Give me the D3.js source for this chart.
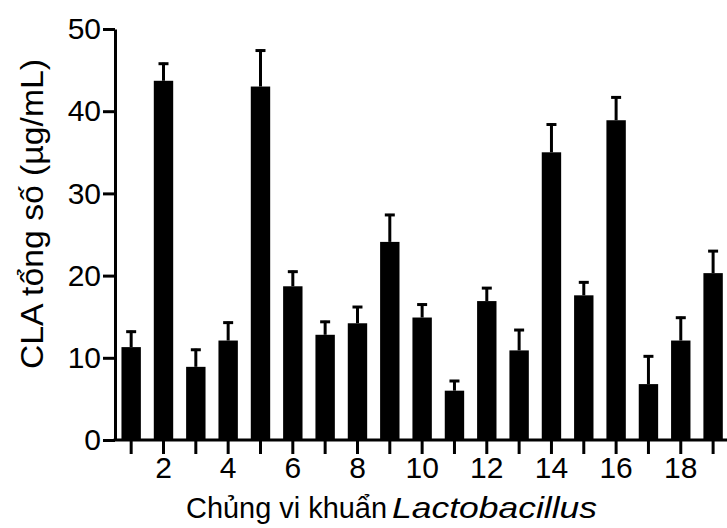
<!doctype html>
<html>
<head>
<meta charset="utf-8">
<style>
    body { margin: 0; background: #fff; }
    text { font-family: "Liberation Sans", Arial, sans-serif; fill: #000; }
</style>
<script src="https://d3js.org/d3.v7.min.js"></script>
</head>
<body>
<div id="chart"></div>
<script>

    // strains 1..19, mean CLA and upper error (SD)
    var strains = d3.range(1, 20);
    var cla = [11.3, 43.7, 8.9, 12.1, 43.0, 18.7, 12.8, 14.2, 24.1, 14.9,
               6.0, 16.9, 10.9, 35.0, 17.6, 38.9, 6.8, 12.1, 20.3];
    var err = [2.0, 2.2, 2.2, 2.3, 4.5, 1.9, 1.7, 2.1, 3.4, 1.7,
               1.3, 1.7, 2.6, 3.5, 1.7, 2.9, 3.5, 2.9, 2.8];
    var yTicks = [0, 10, 20, 30, 40, 50];
    var xLabelled = [2, 4, 6, 8, 10, 12, 14, 16, 18];

    var width = 727, height = 528;
    var plotLeft = 115, plotTop = 29, plotBottom = 440;
    var step = 32.33;

    var svg = d3.select("#chart").append("svg")
        .attr("width", width)
        .attr("height", height);

    var x = d3.scaleBand()
        .domain(strains)
        .range([plotLeft, plotLeft + step * strains.length])
        .paddingInner(0.4)
        .paddingOuter(0.2);

    var y = d3.scaleLinear()
        .domain([0, 50])
        .range([plotBottom, plotTop]);

    // bars
    svg.append("g")
        .selectAll("rect")
        .data(strains)
        .join("rect")
        .attr("x", d => x(d))
        .attr("y", (d, i) => y(cla[i]))
        .attr("width", x.bandwidth())
        .attr("height", (d, i) => plotBottom - y(cla[i]))
        .attr("fill", "#000");

    // error bars (upper only)
    var eb = svg.append("g").attr("stroke", "#000").attr("stroke-width", 3);
    eb.selectAll("line.v")
        .data(strains)
        .join("line")
        .attr("class", "v")
        .attr("x1", d => x(d) + x.bandwidth() / 2)
        .attr("x2", d => x(d) + x.bandwidth() / 2)
        .attr("y1", (d, i) => y(cla[i]))
        .attr("y2", (d, i) => y(cla[i] + err[i]));
    eb.selectAll("line.c")
        .data(strains)
        .join("line")
        .attr("class", "c")
        .attr("x1", d => x(d) + x.bandwidth() / 2 - 5)
        .attr("x2", d => x(d) + x.bandwidth() / 2 + 5)
        .attr("y1", (d, i) => y(cla[i] + err[i]) + 1)
        .attr("y2", (d, i) => y(cla[i] + err[i]) + 1);

    // y axis
    var yAxis = svg.append("g")
        .attr("transform", "translate(" + plotLeft + ",0)")
        .call(d3.axisLeft(y).tickValues(yTicks).tickSize(12).tickSizeOuter(0).tickPadding(2));

    // x axis
    var xAxis = svg.append("g")
        .attr("transform", "translate(0," + plotBottom + ")")
        .call(d3.axisBottom(x).tickSize(14).tickSizeOuter(0).tickPadding(3)
            .tickFormat(d => xLabelled.indexOf(d) >= 0 ? d : ""));
    xAxis.select(".domain").attr("d", "M" + (plotLeft - 1.5) + ",0H" + width);

    svg.selectAll(".domain, .tick line")
        .attr("stroke", "#000")
        .attr("stroke-width", 3);
    svg.selectAll(".tick text")
        .attr("font-family", "Liberation Sans, Arial, sans-serif")
        .attr("font-size", "30px")
        .attr("fill", "#000");

    // axis titles
    svg.append("text")
        .attr("transform", "translate(43, 214) rotate(-90)")
        .attr("text-anchor", "middle")
        .attr("font-size", "31px")
        .attr("textLength", 310)
        .attr("lengthAdjust", "spacingAndGlyphs")
        .text("CLA tổng số (µg/mL)");

    svg.append("text")
        .attr("x", 186)
        .attr("y", 518)
        .attr("font-size", "30px")
        .attr("textLength", 201)
        .attr("lengthAdjust", "spacingAndGlyphs")
        .text("Chủng vi khuẩn");

    svg.append("text")
        .attr("x", 392)
        .attr("y", 518)
        .attr("font-size", "30px")
        .attr("font-style", "italic")
        .attr("textLength", 205)
        .attr("lengthAdjust", "spacingAndGlyphs")
        .text("Lactobacillus");

</script>
</body>
</html>
